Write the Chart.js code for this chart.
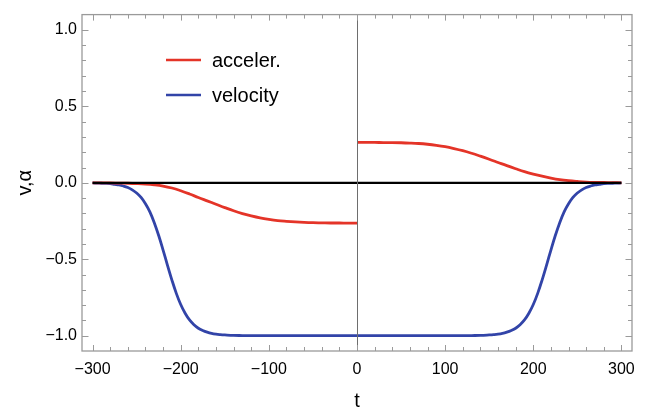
<!DOCTYPE html>
<html>
<head>
<meta charset="utf-8">
<script src="https://cdn.jsdelivr.net/npm/chart.js@4.4.1/dist/chart.umd.min.js"></script>
<style>
  body { margin: 0; background: #fff; }
  #wrap { width: 646px; height: 415px; position: relative; }
</style>
</head>
<body>
<div id="wrap"><canvas id="plot"></canvas></div>
<script>
// values
var xTicks = [-300, -200, -100, 0, 100, 200, 300];
var xTickLabels = ["\u2212300", "\u2212200", "\u2212100", "0", "100", "200", "300"];
var yTicks = [-1, -0.5, 0, 0.5, 1];
var yTickLabels = ["\u22121.0", "\u22120.5", "0.0", "0.5", "1.0"];

// acceleration, t < 0
var tAccNeg = [-300, -290, -280, -270, -260, -250, -240, -230, -220, -210, -200, -190, -180, -170, -160, -150, -140, -130, -120, -110, -100, -90, -80, -70, -60, -50, -40, -30, -20, -10, 0];
var accNeg = [0, -0.001, -0.001, -0.002, -0.003, -0.005, -0.008, -0.013, -0.021, -0.034, -0.052, -0.073, -0.096, -0.118, -0.14, -0.162, -0.183, -0.201, -0.216, -0.229, -0.239, -0.247, -0.252, -0.256, -0.259, -0.261, -0.262, -0.263, -0.263, -0.264, -0.264];

// acceleration, t > 0
var tAccPos = [0, 10, 20, 30, 40, 50, 60, 70, 80, 90, 100, 110, 120, 130, 140, 150, 160, 170, 180, 190, 200, 210, 220, 230, 240, 250, 260, 270, 280, 290, 300];
var accPos = [0.264, 0.264, 0.264, 0.263, 0.263, 0.262, 0.26, 0.257, 0.252, 0.245, 0.236, 0.224, 0.21, 0.193, 0.174, 0.154, 0.133, 0.112, 0.092, 0.073, 0.057, 0.043, 0.031, 0.021, 0.014, 0.009, 0.005, 0.003, 0.002, 0.001, 0];

// velocity
var tVel = [-300, -295, -290, -285, -280, -275, -270, -265, -260, -255, -250, -245, -240, -235, -230, -225, -220, -215, -210, -205, -200, -195, -190, -185, -180, -175, -170, -165, -160, -155, -150,
  -140, -130, -120, -110, -100, -90, -80, -70, -60, -50, -40, -30, -20, -10, 0, 10, 20, 30, 40, 50, 60, 70, 80, 90, 100, 110, 120, 130, 140,
  150, 155, 160, 165, 170, 175, 180, 185, 190, 195, 200, 205, 210, 215, 220, 225, 230, 235, 240, 245, 250, 255, 260, 265, 270, 275, 280, 285, 290, 295, 300];
var vel = [-0.001, -0.002, -0.003, -0.004, -0.006, -0.01, -0.014, -0.021, -0.031, -0.046, -0.067, -0.096, -0.137, -0.19, -0.261, -0.345, -0.44, -0.54, -0.636, -0.723, -0.796, -0.853, -0.897, -0.928, -0.951, -0.966, -0.977, -0.985, -0.99, -0.993, -0.995,
  -0.998, -0.999, -1, -1, -1, -1, -1, -1, -1, -1, -1, -1, -1, -1, -1, -1, -1, -1, -1, -1, -1, -1, -1, -1, -1, -1, -1, -0.999, -0.998,
  -0.995, -0.993, -0.99, -0.985, -0.977, -0.966, -0.951, -0.928, -0.897, -0.853, -0.796, -0.723, -0.636, -0.54, -0.44, -0.345, -0.261, -0.19, -0.137, -0.096, -0.067, -0.046, -0.031, -0.021, -0.014, -0.01, -0.006, -0.004, -0.003, -0.002, -0.001];

var tZero = [-300, 300];
var zero = [0, 0];

var redCol = "rgb(228,52,40)";
var blueCol = "rgb(50,68,168)";
var frameCol = "#9a9a9a";
var fontFam = "'Liberation Sans', Arial, sans-serif";

function pts(xs, ys) {
  return xs.map(function (x, i) { return { x: x, y: ys[i] }; });
}

// frame, inner ticks, the axis at t=0 and the legend (Mathematica look)
var framePlugin = {
  id: "frame",
  afterDatasetsDraw: function (chart) {
    var ctx = chart.ctx;
    var a = chart.chartArea;
    var xs = chart.scales.x, ys = chart.scales.y;
    ctx.save();
    // vertical axis through 0
    var x0 = Math.round(xs.getPixelForValue(0)) + 0.5;
    ctx.strokeStyle = "#6e6e6e";
    ctx.lineWidth = 1;
    ctx.beginPath();
    ctx.moveTo(x0, a.top);
    ctx.lineTo(x0, a.bottom);
    ctx.stroke();

    // frame
    ctx.strokeStyle = frameCol;
    ctx.lineWidth = 1.3;
    ctx.strokeRect(a.left, a.top, a.right - a.left, a.bottom - a.top);

    // ticks
    ctx.lineWidth = 1;
    ctx.beginPath();
    for (var t = -300; t <= 300; t += 20) {
      var px = Math.round(xs.getPixelForValue(t)) + 0.5;
      var len = (t % 100 === 0) ? 6 : 4;
      ctx.moveTo(px, a.bottom); ctx.lineTo(px, a.bottom - len);
      ctx.moveTo(px, a.top); ctx.lineTo(px, a.top + len);
    }
    for (var k = -10; k <= 10; k++) {
      var v = k / 10;
      var py = Math.round(ys.getPixelForValue(v)) + 0.5;
      var l2 = (k % 5 === 0) ? 6.5 : 4;
      ctx.moveTo(a.left, py); ctx.lineTo(a.left + l2, py);
      ctx.moveTo(a.right, py); ctx.lineTo(a.right - l2, py);
    }
    ctx.stroke();

    // legend
    var items = [["acceler.", redCol, 60], ["velocity", blueCol, 95]];
    ctx.font = "20px " + fontFam;
    ctx.textBaseline = "middle";
    items.forEach(function (it) {
      ctx.strokeStyle = it[1];
      ctx.lineWidth = 2.5;
      ctx.beginPath();
      ctx.moveTo(166, it[2]);
      ctx.lineTo(201, it[2]);
      ctx.stroke();
      ctx.fillStyle = "#000";
      ctx.fillText(it[0], 212, it[2] + 1);
    });
    ctx.restore();
  }
};

var line = function (label, data, color, width) {
  return {
    label: label,
    data: data,
    borderColor: color,
    borderWidth: width,
    pointRadius: 0,
    fill: false,
    tension: 0.4
  };
};

var config = {
  type: "line",
  data: {
    datasets: [
      line("zero", pts(tZero, zero), "#000", 2.2),
      line("acceler.", pts(tAccNeg, accNeg), redCol, 2.8),
      line("acceler. ", pts(tAccPos, accPos), redCol, 2.8),
      line("velocity", pts(tVel, vel), blueCol, 2.8)
    ]
  },
  options: {
    animation: false,
    responsive: true,
    maintainAspectRatio: false,
    layout: { padding: { top: 10, right: 14, left: 0, bottom: 0 } },
    plugins: {
      legend: { display: false },
      tooltip: { enabled: false }
    },
    scales: {
      x: {
        type: "linear",
        min: -312,
        max: 312,
        afterBuildTicks: function (s) { s.ticks = xTicks.map(function (v) { return { value: v }; }); },
        afterFit: function (s) { s.height = 64; },
        grid: { display: false, drawTicks: false },
        border: { display: false },
        ticks: {
          autoSkip: false,
          maxRotation: 0,
          padding: 9,
          color: "#000",
          font: { family: fontFam, size: 16 },
          callback: function (v, i) { return xTickLabels[i]; }
        },
        title: {
          display: true,
          text: "t",
          color: "#000",
          font: { family: fontFam, size: 20 },
          padding: { top: 2, bottom: 2 }
        }
      },
      y: {
        type: "linear",
        min: -1.1,
        max: 1.1,
        afterBuildTicks: function (s) { s.ticks = yTicks.map(function (v) { return { value: v }; }); },
        afterFit: function (s) { s.width = 82; },
        grid: { display: false, drawTicks: false },
        border: { display: false },
        ticks: {
          autoSkip: false,
          padding: 5,
          color: "#000",
          font: { family: fontFam, size: 16 },
          callback: function (v, i) { return yTickLabels[i]; }
        },
        title: {
          display: true,
          text: "v,\u03b1",
          color: "#000",
          font: { family: fontFam, size: 20 },
          padding: { top: 13, bottom: 2 }
        }
      }
    }
  },
  plugins: [framePlugin]
};

var myChart = new Chart(document.getElementById("plot"), config);
</script>
</body>
</html>
